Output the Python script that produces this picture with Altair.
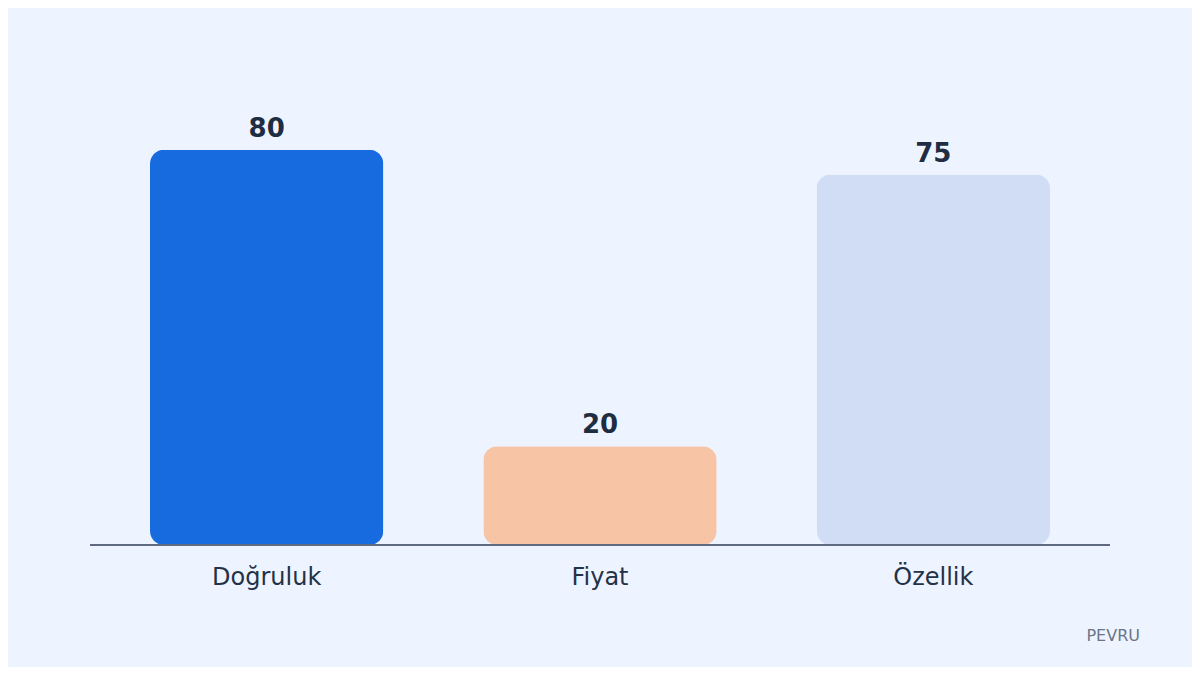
import altair as alt
import pandas as pd

categories = ["Doğruluk", "Fiyat", "Özellik"]
values = [80, 20, 75]
colors = ["#176BDF", "#F7C4A5", "#D0DDF4"]
brand = ["PEVRU"]

df = pd.DataFrame({"cat": categories, "val": values, "color": colors})

W, H = 1000, 494
BG = "#EEF4FF"

x = alt.X("cat:N", sort=categories, title=None,
          scale=alt.Scale(paddingInner=0.3, paddingOuter=0.15),
          axis=alt.Axis(labelAngle=0, labelFont="DejaVu Sans", labelFontSize=24,
                        labelColor="#243247", labelPadding=20, ticks=False,
                        domain=False, grid=False))
y = alt.Y("val:Q", scale=alt.Scale(domain=[0, 100]), axis=None)

bars = alt.Chart(df).mark_bar(cornerRadius=14).encode(
    x=x, y=y, color=alt.Color("color:N", scale=None)
)

labels = alt.Chart(df).mark_text(
    font="DejaVu Sans", fontSize=26, fontWeight="bold", color="#1F2D42",
    baseline="alphabetic", dy=-13
).encode(x=alt.X("cat:N", sort=categories), y="val:Q", text="val:Q")

rule = alt.Chart(df).mark_rule(color="#5F6B80", strokeWidth=2).encode(
    x=alt.value(-10), x2=alt.value(1010), y=alt.value(H)
)

brand_df = pd.DataFrame({"t": brand})
brand_text = alt.Chart(brand_df).mark_text(
    font="DejaVu Sans", fontSize=16, color="#6B7587", align="right",
    baseline="alphabetic"
).encode(x=alt.value(1040), y=alt.value(590), text="t:N")

chart = alt.layer(bars, labels, rule, brand_text).properties(
    width=W, height=H,
    background=BG,
    autosize=alt.AutoSizeParams(type="none"),
    padding={"left": 92, "top": 43, "right": 92, "bottom": 122},
).configure_view(strokeWidth=0)

chart.save("out.html", embed_options={"renderer": "svg", "actions": False})
